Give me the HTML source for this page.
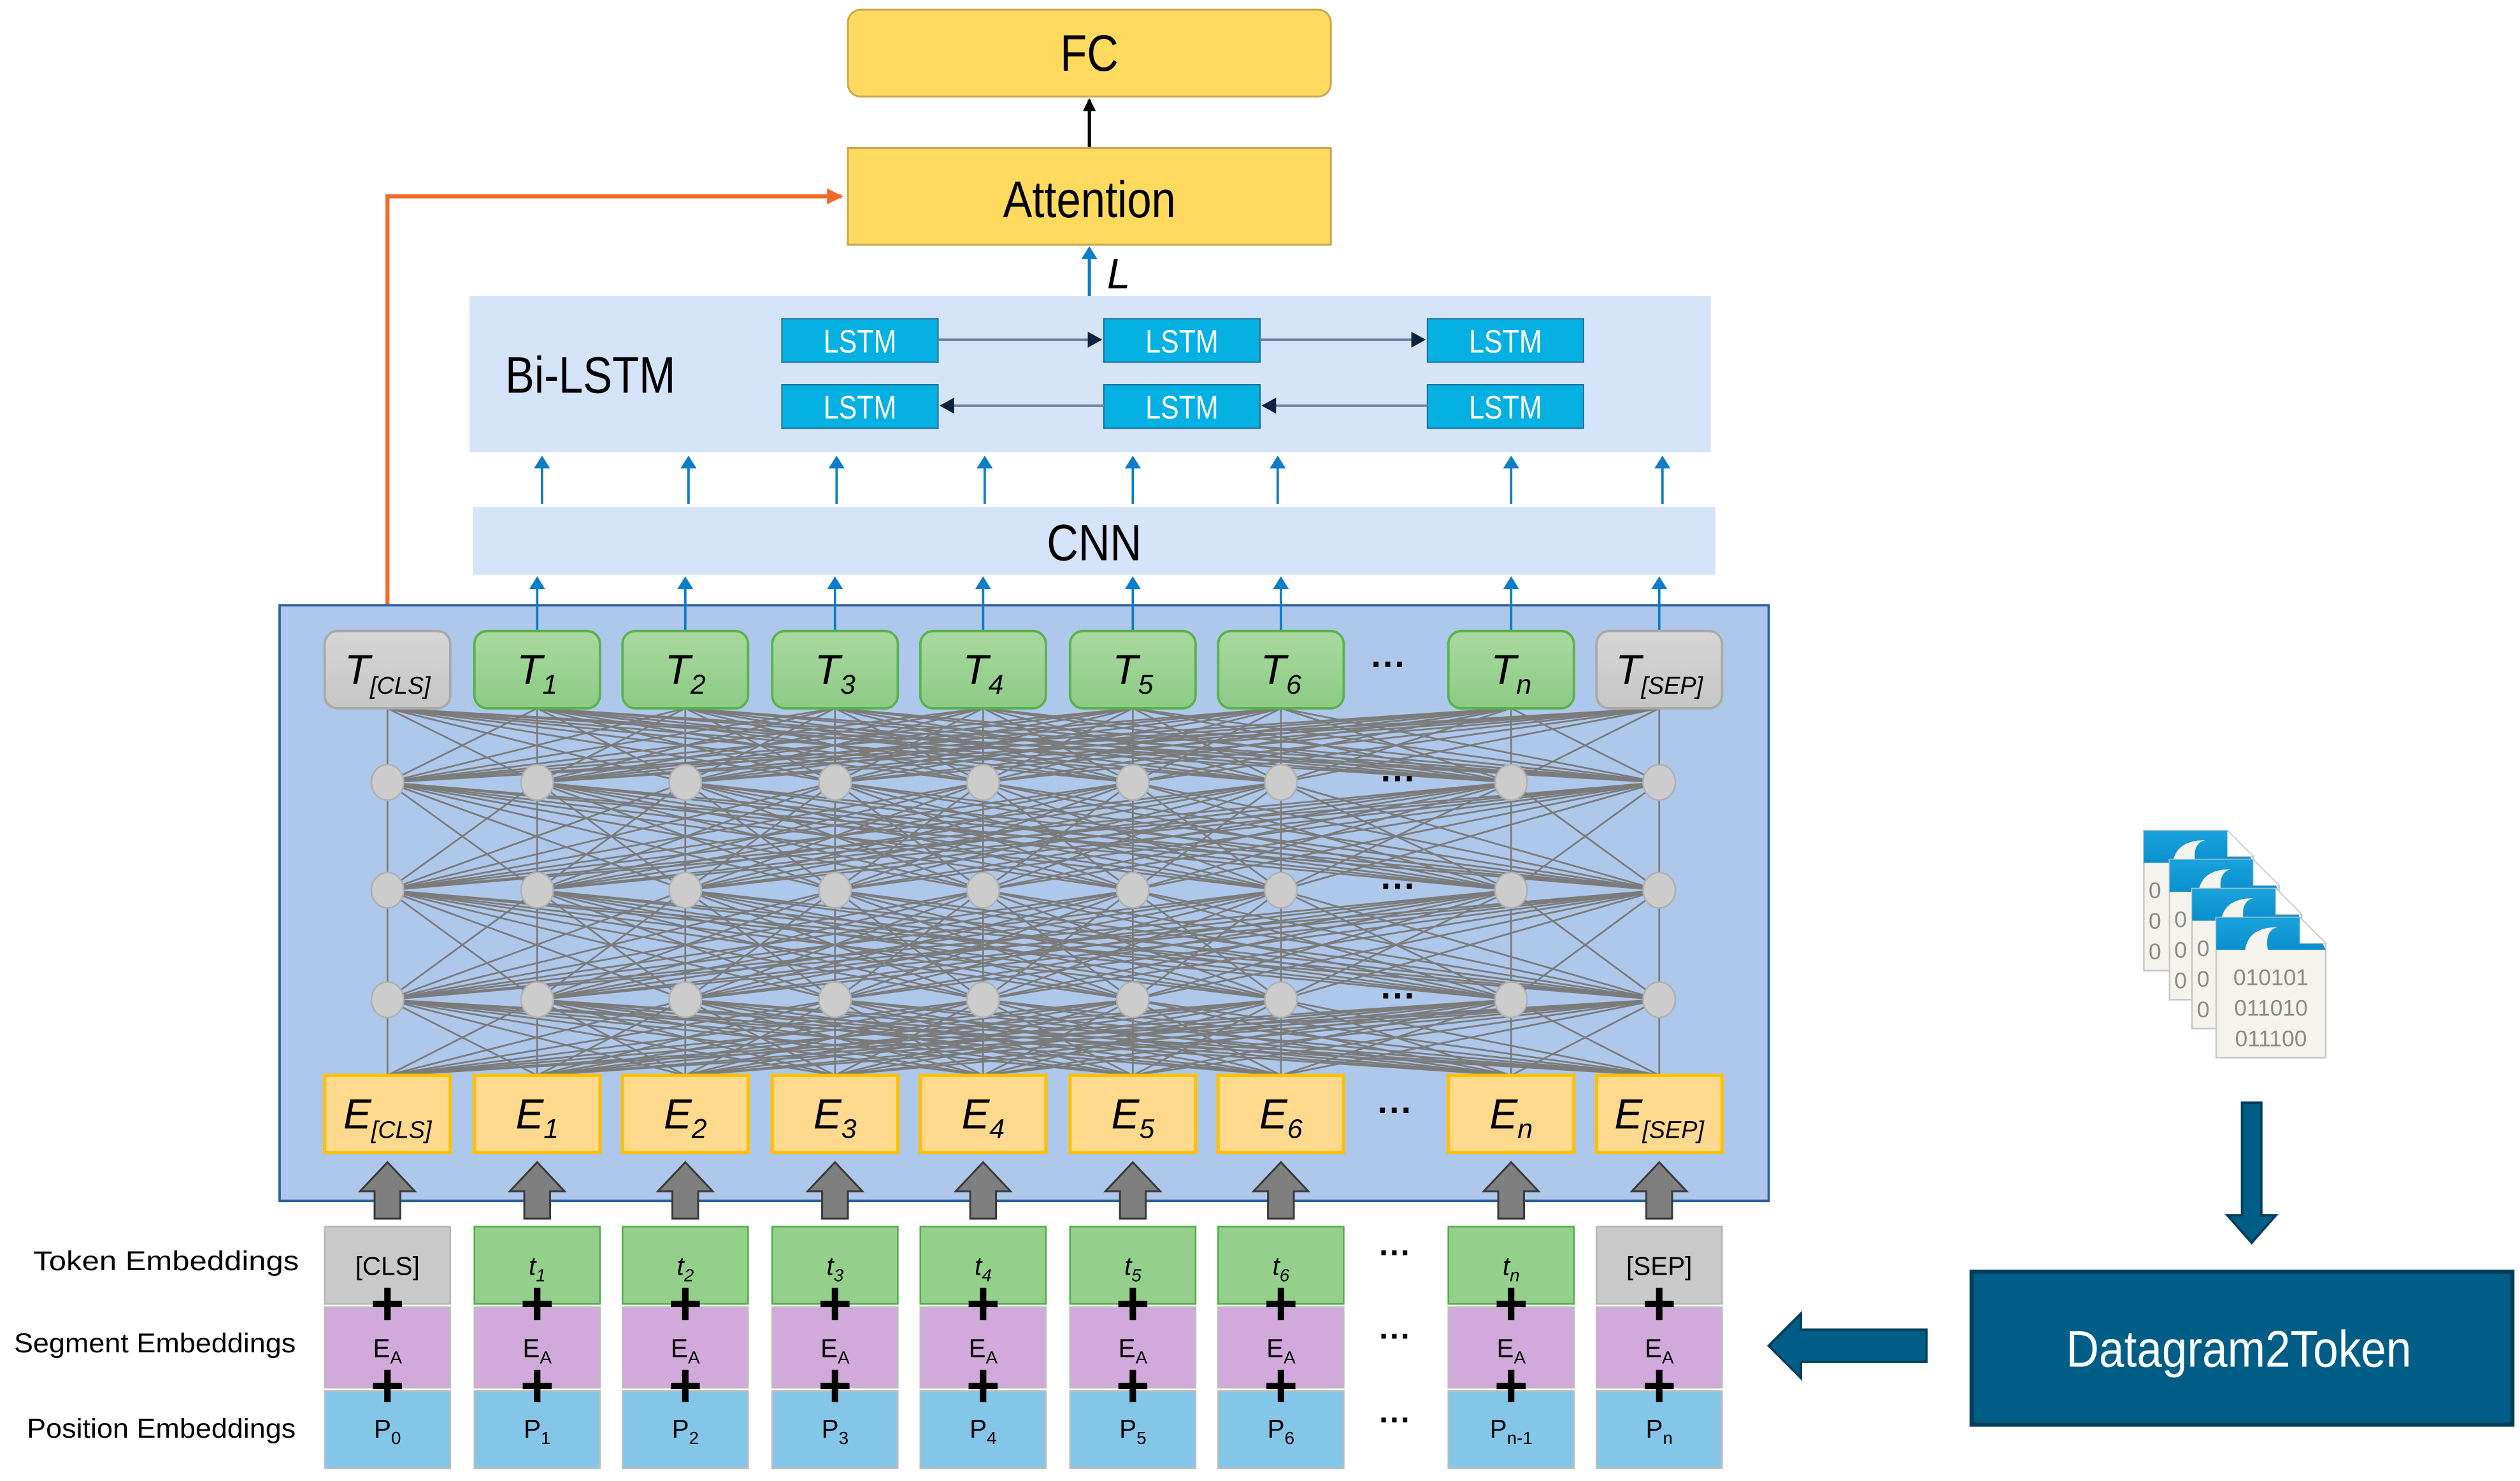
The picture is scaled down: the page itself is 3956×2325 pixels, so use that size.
<!DOCTYPE html>
<html><head><meta charset="utf-8"><style>
html,body{margin:0;padding:0;background:#fff;}
svg{display:block;}
text{font-family:"Liberation Sans",sans-serif;}
</style></head><body>
<svg id="s" width="3956" height="2325" viewBox="0 0 1564 920" xmlns="http://www.w3.org/2000/svg">
<defs>
<marker id="ab" markerWidth="8" markerHeight="8" refX="7" refY="4" orient="auto" markerUnits="userSpaceOnUse"><path d="M0,0 L8,4 L0,8 Z" fill="#000"/></marker>
<marker id="abl" markerWidth="8" markerHeight="10" refX="7" refY="5" orient="auto" markerUnits="userSpaceOnUse"><path d="M0,0 L8,5 L0,10 Z" fill="#0B7DC9"/></marker>
<marker id="ao" markerWidth="10" markerHeight="10" refX="9" refY="5" orient="auto" markerUnits="userSpaceOnUse"><path d="M0,0 L10,5 L0,10 Z" fill="#F26B2A"/></marker>
<marker id="ad" markerWidth="9" markerHeight="10" refX="8" refY="5" orient="auto" markerUnits="userSpaceOnUse"><path d="M0,0 L9,5 L0,10 Z" fill="#0C2340"/></marker>
<linearGradient id="gg" x1="0" y1="0" x2="0" y2="1"><stop offset="0" stop-color="#A9D9A1"/><stop offset="1" stop-color="#8DCB84"/></linearGradient>
<linearGradient id="gr" x1="0" y1="0" x2="0" y2="1"><stop offset="0" stop-color="#D6D6D6"/><stop offset="1" stop-color="#C6C6C6"/></linearGradient>
<linearGradient id="gb" x1="0" y1="0" x2="0" y2="1"><stop offset="0" stop-color="#1AA3DB"/><stop offset="1" stop-color="#0B8FCF"/></linearGradient>
</defs>
<g id="g"></g>
</svg>
<script>
var g=document.getElementById('g');var h='';
function R(x,y,w,hh,f,s,rx,sw){h+='<rect x="'+x+'" y="'+y+'" width="'+w+'" height="'+hh+'" rx="'+(rx||0)+'" fill="'+f+'" stroke="'+(s||'none')+'" stroke-width="'+(sw||1)+'"/>';}
function T(x,y,t,sz,f,extra){h+='<text x="'+x+'" y="'+y+'" font-size="'+sz+'" fill="'+(f||'#000')+'" text-anchor="middle" '+(extra||'')+'>'+t+'</text>';}
function C(x,y,t,sz,f,sx){h+='<g transform="translate('+x+','+y+') scale('+sx+',1)"><text x="0" y="0" font-size="'+sz+'" fill="'+(f||'#000')+'" text-anchor="middle">'+t+'</text></g>';}
function L(x1,y1,x2,y2,c,w,m){h+='<line x1="'+x1+'" y1="'+y1+'" x2="'+x2+'" y2="'+y2+'" stroke="'+c+'" stroke-width="'+w+'"'+(m?' marker-end="url(#'+m+')"':'')+'/>';}
R(526,6,300,54,'#FFDA5F','#C8A850',8,1.2);C(676,44,'FC',32,'#000',0.85);
L(676,92,676,62,'#000',2,'ab');
R(526,92,300,60,'#FFDA5F','#C8A850',0,1.2);C(676,135,'Attention',32,'#000',0.85);
h+='<polyline points="240,392 240,122 522,122" fill="none" stroke="#F26B2A" stroke-width="2.5" marker-end="url(#ao)"/>';
L(676,184,676,154,'#0B7DC9',2,'abl');
h+='<text x="687" y="179" font-size="26" font-style="italic" font-family="Liberation Serif,serif">L</text>';
R(291,184,771,97,'#D5E4F8');
C(366,244,'Bi-LSTM',32,'#000',0.85);
var lx=[485,685,886];
[198,239].forEach(function(y){lx.forEach(function(x){R(x,y,97,27,'#05B0E2','#1F6E98',0,0.8);C(x+48.5,y+21,'LSTM',20,'#fff',0.85);});});
L(582,211,683,211,'#6A8299',1.5,'ad');L(782,211,884,211,'#6A8299',1.5,'ad');
L(685,252,584,252,'#6A8299',1.5,'ad');L(886,252,784,252,'#6A8299',1.5,'ad');
[336,427,519,611,703,793,938,1032].forEach(function(x){L(x,313,x,284,'#0B7DC9',1.5,'abl');});
R(293,315,772,42,'#D5E4F8');C(679,348,'CNN',32,'#000',0.85);
R(173,376,925,370,'#AEC8EB','#2D5F9E',0,1.5);
var cx=[240,333,425,518,610,703,795,938,1030];
cx.forEach(function(x){if(x!=240)L(x,392,x,359,'#0B7DC9',1.5,'abl');});
var ys=[[440,486],[486,553],[553,621],[621,668]];
ys.forEach(function(p){cx.forEach(function(a){cx.forEach(function(b){L(a,p[0],b,p[1],'#7B7B7B',1.1);});});});
[486,553,621].forEach(function(y){cx.forEach(function(x){h+='<ellipse cx="'+x+'" cy="'+y+'" rx="10" ry="11" fill="#CCCCCC" stroke="#B0B0B0" stroke-width="1"/>';});T(868,y+5,'···',22,'#000','font-weight="bold"');});
var sub=['[CLS]','1','2','3','4','5','6','n','[SEP]'];
cx.forEach(function(x,i){var grey=(i==0||i==8);
R(x-39,392,78,48,grey?'url(#gr)':'url(#gg)',grey?'#AAAAAA':'#58B34A',8,1.5);
h+='<text x="'+x+'" y="425" font-size="26" font-style="italic" text-anchor="middle">T<tspan font-size="'+(grey?15:17)+'" dy="6">'+sub[i]+'</tspan></text>';
R(x-39,668,78,48,'#FFD98E','#FFC000',0,2);
h+='<text x="'+x+'" y="701" font-size="26" font-style="italic" text-anchor="middle">E<tspan font-size="'+(grey?15:17)+'" dy="6">'+sub[i]+'</tspan></text>';
h+='<path d="M'+(x-8)+',757 L'+(x-8)+',740 L'+(x-17)+',740 L'+x+',722 L'+(x+17)+',740 L'+(x+8)+',740 L'+(x+8)+',757 Z" fill="#7F7F7F" stroke="#3A3A3A" stroke-width="1.2"/>';
R(x-39,762,78,48,grey?'#C9C9C9':'#95CF8C',grey?'#B5B5B5':'#4EAF45',0,1);
R(x-39,812,78,50,'#D1AADB','#BDBDBD',0,1);
R(x-39,864,78,48,'#84C6E8','#BDBDBD',0,1);
var ts=grey?sub[i]:'<tspan font-style="italic">t</tspan><tspan font-size="11" dy="4" font-style="italic">'+sub[i]+'</tspan>';
h+='<text x="'+x+'" y="792" font-size="16" text-anchor="middle">'+ts+'</text>';
h+='<text x="'+x+'" y="843" font-size="16" text-anchor="middle">E<tspan font-size="11" dy="4">A</tspan></text>';
var ps=['0','1','2','3','4','5','6','n-1','n'][i];
h+='<text x="'+x+'" y="893" font-size="16" text-anchor="middle">P<tspan font-size="11" dy="4">'+ps+'</tspan></text>';
[810,861].forEach(function(y){R(x-2,y-10,4,20,'#000');R(x-9,y-2,18,4,'#000');});
});
T(862,420,'···',22,'#000','font-weight="bold"');T(866,697,'···',22,'#000','font-weight="bold"');
[785,837,889].forEach(function(y){T(866,y,'···',20,'#000','font-weight="bold"');});
h+='<text x="20" y="789" font-size="17" textLength="165" lengthAdjust="spacingAndGlyphs">Token Embeddings</text>';
h+='<text x="8" y="840" font-size="17" textLength="175" lengthAdjust="spacingAndGlyphs">Segment Embeddings</text>';
h+='<text x="16" y="893" font-size="17" textLength="167" lengthAdjust="spacingAndGlyphs">Position Embeddings</text>';
R(1224,790,336,95,'#005E86','#033E5C',0,2.5);C(1390,849,'Datagram2Token',32,'#fff',0.88);
h+='<path d="M1196,826 L1118,826 L1118,816 L1098,836 L1118,856 L1118,846 L1196,846 Z" fill="#005E86" stroke="#033E5C" stroke-width="1.5"/>';
h+='<path d="M1392,685 L1404,685 L1404,755 L1413,755 L1398,772 L1383,755 L1392,755 Z" fill="#005E86" stroke="#033E5C" stroke-width="1.5"/>';
[[1331,516],[1347,534],[1361,552],[1376,570]].forEach(function(p,k){var x=p[0],y=p[1],w=68,hh=87;
h+='<path d="M'+x+','+y+' L'+(x+w-16)+','+y+' L'+(x+w)+','+(y+16)+' L'+(x+w)+','+(y+hh)+' L'+x+','+(y+hh)+' Z" fill="#F4F3EC" stroke="#C8C8C8" stroke-width="1"/>';
h+='<path d="M'+x+','+y+' L'+(x+w-16)+','+y+' L'+(x+w-4)+','+(y+12)+' L'+(x+w)+','+(y+20)+' L'+(x+32)+','+(y+20)+' Q'+(x+30)+','+(y+8)+' '+(x+38)+','+(y+6)+' Q'+(x+20)+','+(y+6)+' '+(x+18)+','+(y+20)+' L'+x+','+(y+20)+' Z" fill="url(#gb)"/>';
h+='<path d="M'+(x+w-16)+','+y+' L'+(x+w)+','+(y+16)+' L'+(x+w-16)+','+(y+16)+' Z" fill="#fff" stroke="#ccc" stroke-width="0.5"/>';
if(k==3){['010101','011010','011100'].forEach(function(t,j){h+='<text x="'+(x+34)+'" y="'+(y+42+j*19)+'" font-size="14" fill="#8A8A8A" text-anchor="middle" font-family="Liberation Mono,monospace">'+t+'</text>';});}
else{[0,1,2].forEach(function(j){h+='<text x="'+(x+3)+'" y="'+(y+42+j*19)+'" font-size="14" fill="#8A8A8A" font-family="Liberation Mono,monospace">0</text>';});}
});
g.innerHTML=h;
</script>
</body></html>
